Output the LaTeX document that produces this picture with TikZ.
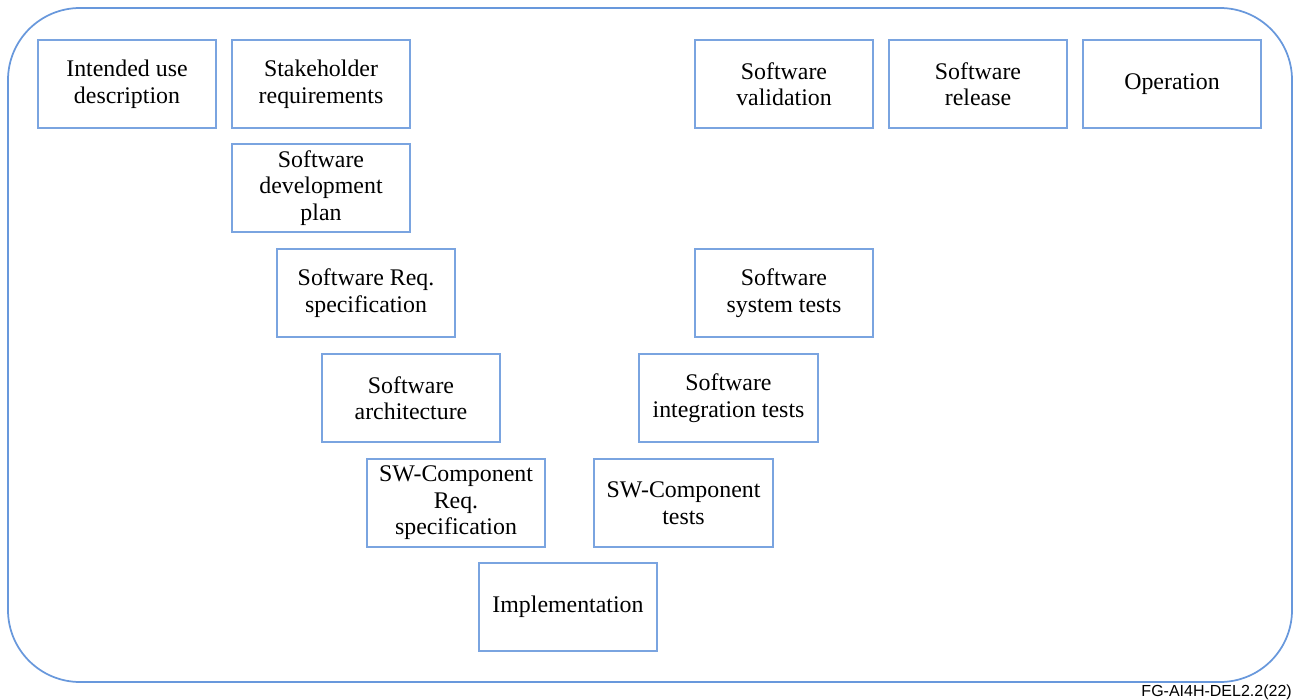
\documentclass[tikz,border=0pt]{standalone}
\usepackage{fontspec}
\setmainfont{Liberation Serif}
\newfontfamily\labelfont{Liberation Sans}
\definecolor{frameblue}{RGB}{104,152,220}
\definecolor{boxblue}{RGB}{122,164,224}
\begin{document}
\begin{tikzpicture}[x=0.75pt,y=-0.75pt,
  stagebox/.style={draw=boxblue,line width=1.4pt,minimum width=134pt,minimum height=66.5pt,
    inner sep=0pt,align=center,font=\fontsize{17.9}{19.9}\selectfont},
  frameline/.style={draw=frameblue,line width=1.3pt,rounded corners=54pt}]
\useasboundingbox (0,0) rectangle (1298,699);
\fill[white] (0,0) rectangle (1298,699);
% outer frame
\draw[frameline] (8,8) rectangle (1292,682);
% left branch of the V
\node[stagebox] (intended) at (127,84) {Intended use\\description};
\node[stagebox] (stake) at (321,84) {Stakeholder\\requirements};
\node[stagebox] (devplan) at (321,188) {Software\\development\\plan};
\node[stagebox] (swreq) at (366,293) {Software Req.\\specification};
\node[stagebox] (arch) at (411,398) {Software\\architecture};
\node[stagebox] (compreq) at (456,503) {SW-Component\\Req.\\specification};
% bottom
\node[stagebox] (impl) at (568,607) {Implementation};
% right branch of the V
\node[stagebox] (comptests) at (683.5,503) {SW-Component\\tests};
\node[stagebox] (integ) at (728.5,398) {Software\\integration tests};
\node[stagebox] (system) at (784,293) {Software\\system tests};
\node[stagebox] (valid) at (784,84) {Software\\validation};
\node[stagebox] (release) at (978,84) {Software\\release};
\node[stagebox] (operation) at (1172,84) {Operation};
% document reference
\node[anchor=base east,inner sep=0pt,font=\labelfont\fontsize{12}{14}\selectfont] (docref) at (1292,696.5) {FG-AI4H-DEL2.2(22)};
\end{tikzpicture}
\end{document}
